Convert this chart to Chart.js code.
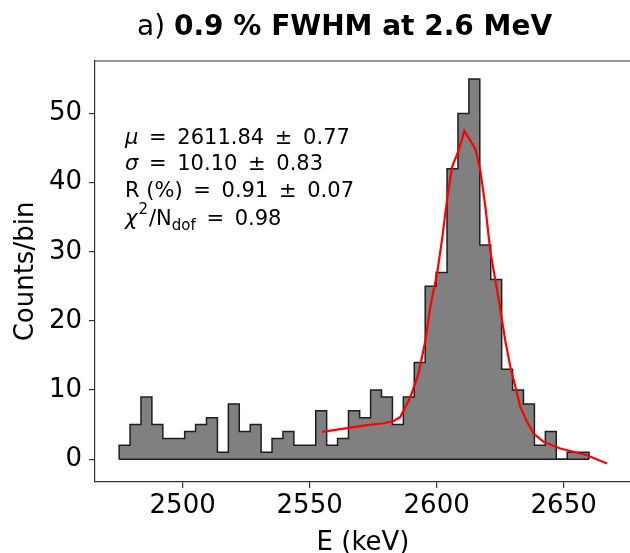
<!DOCTYPE html>
<html>
<head>
<meta charset="utf-8">
<script src="https://cdn.jsdelivr.net/npm/chart.js@4"></script>
<style>
  html, body { margin: 0; padding: 0; background: #fff; overflow: hidden; }
  #wrap { width: 630px; height: 553px; overflow: hidden; }
</style>
</head>
<body>
<div id="wrap"><canvas id="spectrum" width="640" height="553"></canvas></div>
<script>
// histogram bin edges (keV) and counts per bin
const binEdges = [2475.0, 2479.3, 2483.6, 2487.9, 2492.2, 2496.5, 2500.8, 2505.1, 2509.4, 2513.7,
  2518.0, 2522.3, 2526.6, 2530.9, 2535.2, 2539.5, 2543.8, 2548.1, 2552.4, 2556.7,
  2561.0, 2565.3, 2569.7, 2574.0, 2578.3, 2582.6, 2586.9, 2591.2, 2595.5, 2599.8,
  2604.1, 2608.4, 2612.7, 2617.0, 2621.3, 2625.6, 2629.9, 2634.2, 2638.5, 2642.8,
  2647.1, 2651.4, 2655.7, 2660.0];
const counts = [2, 5, 9, 5, 3, 3, 4, 5, 6, 1, 8, 4, 5, 1, 3, 4, 2, 2, 7, 2, 3, 7,
  6, 10, 9, 5, 9, 14, 25, 27, 42, 50, 55, 31, 26, 13, 10, 8, 2, 4, 0, 1, 1];

// fitted curve
const fitE = [2554.9, 2562.1, 2571.9, 2579.1, 2583.0, 2585.7, 2589.7, 2592.9, 2595.6, 2597.5,
  2600.2, 2602.1, 2604.1, 2606.1, 2608.7, 2610.9, 2615.2, 2617.2, 2619.2, 2621.1,
  2623.1, 2625.1, 2627.0, 2629.0, 2631.0, 2632.9, 2635.6, 2638.2, 2642.1, 2648.7,
  2659.2, 2667.1];
const fitY = [3.95, 4.35, 4.9, 5.2, 5.5, 6.1, 9.0, 12.4, 17.2, 22.0,
  26.9, 31.7, 37.5, 42.3, 44.7, 47.5, 44.9, 41.8, 36.5, 30.2,
  25.9, 21.6, 17.2, 13.4, 10.5, 7.6, 5.4, 3.7, 2.5, 1.54,
  0.58, -0.62];

const xTicks = [2500, 2550, 2600, 2650];
const yTicks = [0, 10, 20, 30, 40, 50];

const titleNormal = "a) ";
const titleBold = "0.9 % FWHM at 2.6 MeV";
const xTitle = "E (keV)";
const yTitle = "Counts/bin";

const FONT = "DejaVu Sans";

// step outline: start at 0, one point per bin, back down to 0
const histPts = [{ x: binEdges[0], y: 0 }];
counts.forEach((c, i) => histPts.push({ x: binEdges[i], y: c }));
histPts.push({ x: binEdges[binEdges.length - 1], y: 0 });

// draw words, extra room around the = and ± operators
function drawWords(ctx, text, x, y, extra) {
  const sp = ctx.measureText(" ").width;
  const words = text.split(" ");
  words.forEach((w, i) => {
    ctx.fillText(w, x, y);
    x += ctx.measureText(w).width + sp;
    const next = words[i + 1];
    if (w === "=" || w === "\u00b1" || next === "=" || next === "\u00b1") x += extra;
  });
  return x;
}

const textPlugin = {
  id: "texts",
  afterDraw(chart) {
    const ctx = chart.ctx;
    const a = chart.chartArea;
    ctx.save();
    // top spine (right one sits just past the visible edge)
    ctx.strokeStyle = "#333";
    ctx.lineWidth = 1.2;
    ctx.beginPath();
    ctx.moveTo(a.left, a.top);
    ctx.lineTo(a.right, a.top);
    ctx.lineTo(a.right, a.bottom);
    ctx.stroke();

    ctx.fillStyle = "#000";
    ctx.textBaseline = "alphabetic";
    ctx.textAlign = "left";

    // title
    ctx.font = "28px " + FONT;
    let tx = 137;
    ctx.fillText(titleNormal, tx, 35);
    tx += ctx.measureText(titleNormal).width;
    ctx.font = "bold 28px " + FONT;
    ctx.fillText(titleBold, tx, 35);

    // axis titles
    ctx.font = "26px " + FONT;
    ctx.textAlign = "center";
    ctx.fillText(xTitle, 363, 550);
    ctx.save();
    ctx.translate(33, (a.top + a.bottom) / 2);
    ctx.rotate(-Math.PI / 2);
    ctx.fillText(yTitle, 0, 0);
    ctx.restore();

    // fit results
    ctx.textAlign = "left";
    const x0 = 125, ex = 4;
    const reg = "21px " + FONT, ital = "italic 21px " + FONT, small = "15px " + FONT;
    let x;
    ctx.font = ital; ctx.fillText("\u03bc", x0, 144);
    x = x0 + ctx.measureText("\u03bc").width;
    ctx.font = reg; drawWords(ctx, " = 2611.84 \u00b1 0.77", x, 144, ex);

    ctx.font = ital; ctx.fillText("\u03c3", x0, 170);
    x = x0 + ctx.measureText("\u03c3").width;
    ctx.font = reg; drawWords(ctx, " = 10.10 \u00b1 0.83", x, 170, ex);

    ctx.font = reg; drawWords(ctx, "R (%) = 0.91 \u00b1 0.07", x0, 197, ex);

    ctx.font = ital; ctx.fillText("\u03c7", x0, 225);
    x = x0 + ctx.measureText("\u03c7").width + 1;
    ctx.font = small; ctx.fillText("2", x, 214);
    x += ctx.measureText("2").width + 1;
    ctx.font = reg; ctx.fillText("/N", x, 225);
    x += ctx.measureText("/N").width;
    ctx.font = small; ctx.fillText("dof", x, 230);
    x += ctx.measureText("dof").width;
    ctx.font = reg; drawWords(ctx, " = 0.98", x, 225, ex);
    ctx.restore();
  }
};

const tickFont = { family: FONT, size: 26 };

new Chart(document.getElementById("spectrum"), {
  type: "line",
  data: {
    datasets: [
      {
        label: "fit",
        data: fitE.map((e, i) => ({ x: e, y: fitY[i] })),
        borderColor: "#ff0000",
        borderWidth: 2.2,
        pointRadius: 0,
        fill: false,
        order: 0
      },
      {
        label: "baseline",
        data: [{ x: binEdges[0], y: 0 }, { x: binEdges[binEdges.length - 1], y: 0 }],
        borderColor: "#1e1e1e",
        borderWidth: 1.5,
        pointRadius: 0,
        fill: false,
        order: 0.5
      },
      {
        label: "counts",
        data: histPts,
        stepped: "before",
        borderColor: "#1e1e1e",
        borderWidth: 1.5,
        backgroundColor: "#808080",
        fill: "origin",
        pointRadius: 0,
        order: 1
      }
    ]
  },
  options: {
    responsive: false,
    animation: false,
    devicePixelRatio: 1,
    layout: { padding: { left: 0, top: 61, right: 5, bottom: 0 } },
    plugins: { legend: { display: false }, tooltip: { enabled: false } },
    scales: {
      x: {
        type: "linear",
        min: 2465.5,
        max: 2678.1,
        afterBuildTicks: (s) => { s.ticks = xTicks.map((v) => ({ value: v })); },
        afterFit: (s) => { s.height = 71; },
        grid: { drawOnChartArea: false, tickLength: 6, color: "#333", lineWidth: 1.2 },
        border: { color: "#333", width: 1.2 },
        ticks: { font: tickFont, color: "#000", padding: 3, maxRotation: 0, autoSkip: false,
          callback: (v) => String(v) }
      },
      y: {
        type: "linear",
        min: -3.3,
        max: 57.6,
        afterBuildTicks: (s) => { s.ticks = yTicks.map((v) => ({ value: v })); },
        afterFit: (s) => { s.width = 95; },
        grid: { drawOnChartArea: false, tickLength: 6, color: "#333", lineWidth: 1.2 },
        border: { color: "#333", width: 1.2 },
        ticks: { font: tickFont, color: "#000", padding: 7 }
      }
    }
  },
  plugins: [textPlugin]
});
</script>
</body>
</html>
